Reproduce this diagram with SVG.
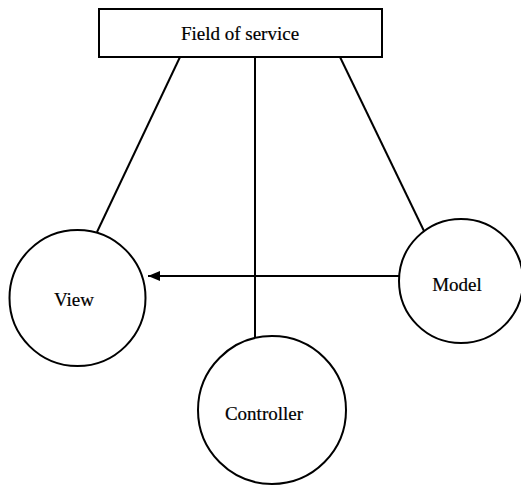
<svg xmlns="http://www.w3.org/2000/svg" width="521" height="485" viewBox="0 0 521 485">
<style>
.s{fill:#fff;stroke:#000;stroke-width:2}
.c{fill:none;stroke:#000;stroke-width:2}
text{font-family:"Liberation Serif","Times New Roman",serif;font-size:19px;fill:#000;text-anchor:middle;stroke:#000;stroke-width:0.2}
</style>
<defs>
<marker id="ah" markerWidth="12" markerHeight="10" refX="12" refY="5" orient="auto" markerUnits="userSpaceOnUse">
<path d="M0,0 L12,5 L0,10 Z" fill="#000"/>
</marker>
</defs>
<rect width="521" height="485" fill="#fff"/>
<g id="connectors">
<line class="c" x1="180" y1="57" x2="97" y2="232"/>
<line class="c" x1="340" y1="57" x2="424" y2="231"/>
<line class="c" x1="255" y1="57" x2="255" y2="337"/>
<line class="c" x1="399" y1="276" x2="148" y2="276" marker-end="url(#ah)"/>
</g>
<g id="field">
<rect class="s" x="99" y="9" width="283" height="48"/>
<text x="240" y="40">Field of service</text>
</g>
<g id="view">
<circle class="s" cx="77.5" cy="298" r="68"/>
<text x="74" y="306">View</text>
</g>
<g id="controller">
<circle class="s" cx="272" cy="410" r="74"/>
<text x="264" y="420">Controller</text>
</g>
<g id="model">
<circle class="s" cx="461" cy="281" r="62"/>
<text x="457" y="291">Model</text>
</g>
</svg>
